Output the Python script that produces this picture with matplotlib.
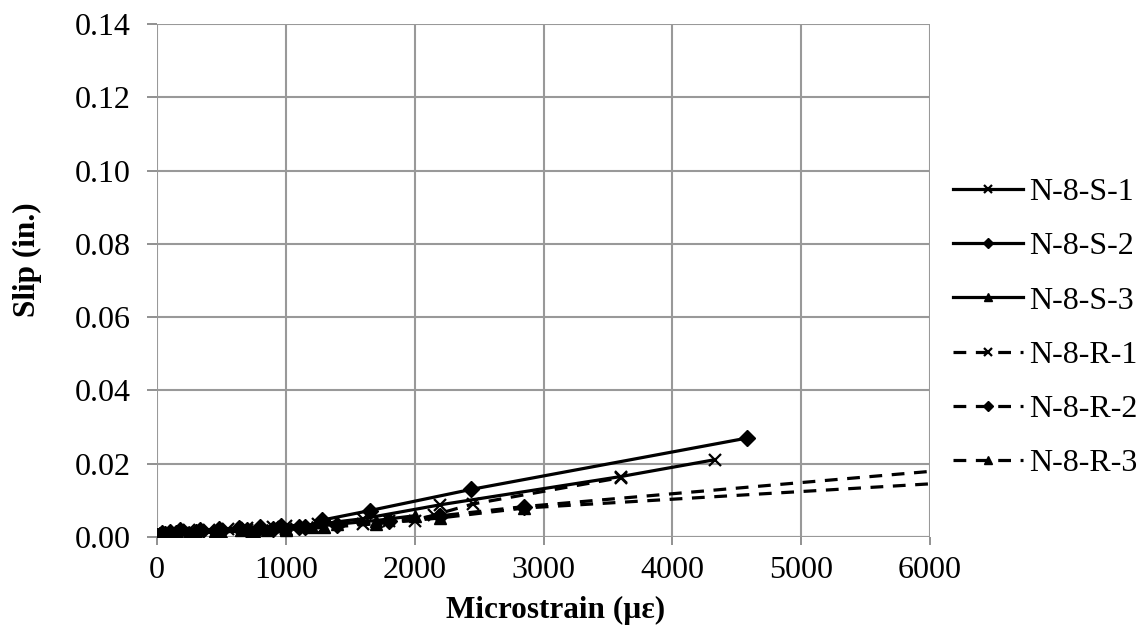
import matplotlib
matplotlib.use('Agg')
import matplotlib.pyplot as plt

# Slip vs microstrain for N-8 specimens
s1_x = [0, 60, 150, 250, 400, 550, 700, 900, 1000, 1250, 1600, 2200, 3600, 4330]
s1_y = [0.0002, 0.0008, 0.0015, 0.0020, 0.0018, 0.0022, 0.0024, 0.0028, 0.0030, 0.0035, 0.0050, 0.0088, 0.0165, 0.0211]

s2_x = [0, 40, 100, 180, 330, 480, 640, 800, 960, 1150, 1280, 1650, 2440, 4580]
s2_y = [0.0004, 0.0010, 0.0015, 0.0020, 0.0019, 0.0021, 0.0025, 0.0026, 0.0031, 0.0026, 0.0046, 0.0072, 0.0130, 0.0270]

s3_x = [0, 20, 50, 90, 120, 160, 250, 450, 650, 850, 1000, 1200, 1400, 1700, 2000]
s3_y = [0.0000, 0.0002, 0.0005, 0.0007, 0.0010, 0.0006, 0.0015, 0.0016, 0.0018, 0.0020, 0.0022, 0.0028, 0.0035, 0.0045, 0.0058]

r1_x = [0, 30, 80, 130, 200, 400, 700, 1000, 1300, 1600, 1800, 2000, 2150, 2450, 3600]
r1_y = [0.0000, 0.0003, 0.0006, 0.0004, 0.0012, 0.0015, 0.0018, 0.0022, 0.0028, 0.0035, 0.0043, 0.0045, 0.0060, 0.0090, 0.0162]

r2_x = [0, 25, 60, 110, 150, 300, 500, 700, 900, 1100, 1400, 1800, 2200, 2850, 8000]
r2_y = [0.0003, 0.0005, 0.0008, 0.0006, 0.0012, 0.0015, 0.0017, 0.0019, 0.0022, 0.0026, 0.0032, 0.0043, 0.0058, 0.0083, 0.0240]

r3_x = [0, 30, 80, 150, 300, 500, 750, 1000, 1300, 1700, 2200, 2850, 8000]
r3_y = [0.0000, 0.0003, 0.0006, 0.0008, 0.0012, 0.0014, 0.0017, 0.0020, 0.0026, 0.0036, 0.0052, 0.0079, 0.0187]

x_ticks = [0, 1000, 2000, 3000, 4000, 5000, 6000]
y_ticks = [0.00, 0.02, 0.04, 0.06, 0.08, 0.10, 0.12, 0.14]

plt.rcParams['font.family'] = ['Liberation Serif', 'DejaVu Serif']

W, H = 1143, 635
fig = plt.figure(figsize=(W / 100, H / 100), dpi=100)
ax = fig.add_axes([157 / W, 1 - 537 / H, (930 - 157) / W, (537 - 24) / H])

lw = 2.3
dash = (0, (4, 3))
ax.plot(s1_x, s1_y, color='black', lw=lw, marker='x', ms=8, mew=1.6, label='N-8-S-1')
ax.plot(s2_x, s2_y, color='black', lw=lw, marker='D', ms=8, label='N-8-S-2')
ax.plot(s3_x, s3_y, color='black', lw=lw, marker='^', ms=9, label='N-8-S-3')
ax.plot(r1_x, r1_y, color='black', lw=lw, ls=dash, marker='x', ms=8, mew=1.6, label='N-8-R-1')
ax.plot(r2_x, r2_y, color='black', lw=lw, ls=dash, marker='D', ms=8, label='N-8-R-2')
ax.plot(r3_x, r3_y, color='black', lw=lw, ls=dash, marker='^', ms=9, label='N-8-R-3')

ax.set_xlim(0, 6000)
ax.set_ylim(0, 0.14)
ax.set_xticks(x_ticks)
ax.set_yticks(y_ticks)
ax.set_yticklabels(['%.2f' % v for v in y_ticks])
ax.tick_params(axis='y', labelsize=23, length=7, pad=12, color='#888888', width=1.3)
ax.tick_params(axis='x', labelsize=23, length=6, pad=8, color='#888888', width=1.3)
ax.grid(True, color='#999999', lw=1.5)
ax.set_axisbelow(True)
for side in ['left', 'bottom', 'top', 'right']:
    ax.spines[side].set_visible(False)
ax.axhline(0, color='#999999', lw=1.5, zorder=0)

ax.set_xlabel('Microstrain (µε)', fontsize=22.5, fontweight='bold')
ax.set_ylabel('Slip (in.)', fontsize=22.5, fontweight='bold')
ax.xaxis.set_label_coords(0.516, -0.115)
ax.yaxis.set_label_coords(-0.149, 0.54)

leg = ax.legend(loc='center left', bbox_to_anchor=(953 / W, 1 - 328 / H),
                bbox_transform=fig.transFigure, frameon=False, borderpad=0,
                borderaxespad=0, fontsize=23, handlelength=2.2,
                handletextpad=0.19, labelspacing=0.78, markerscale=0.7)

fig.savefig('out.png', dpi=100)
